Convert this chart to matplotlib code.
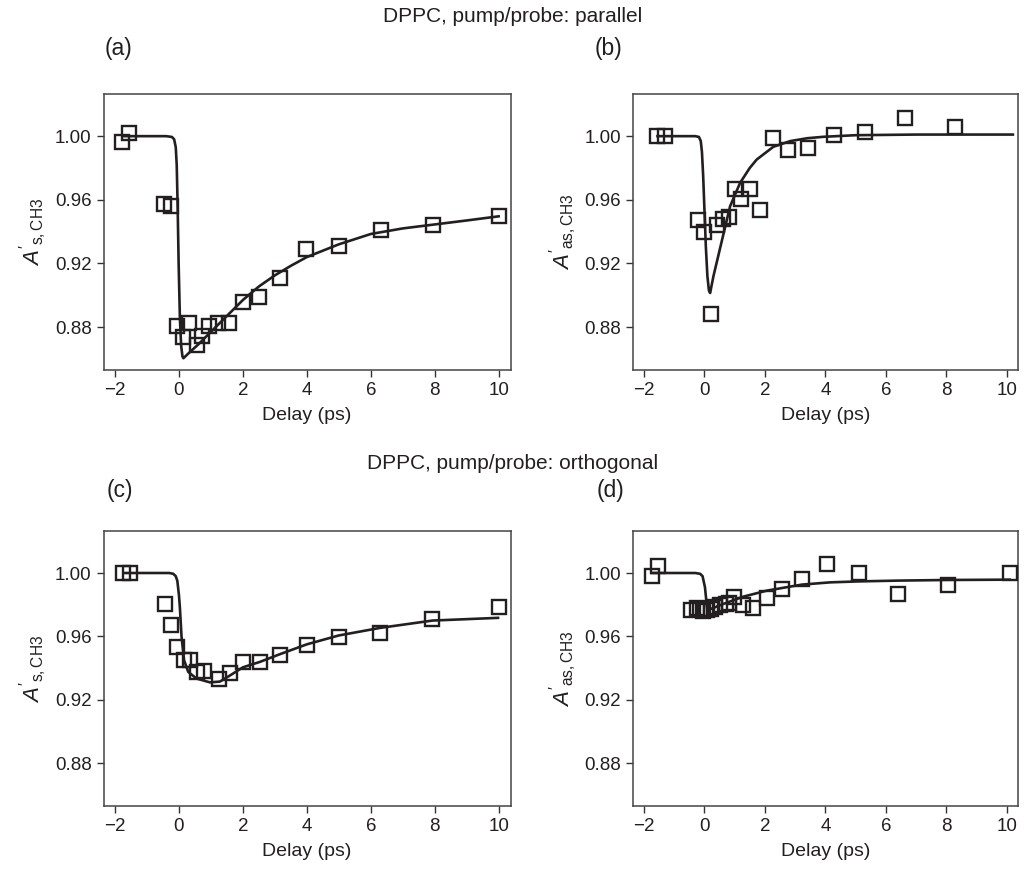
import matplotlib
matplotlib.use("Agg")
import matplotlib.pyplot as plt

plt.rcParams['font.family'] = ['Liberation Sans', 'DejaVu Sans']
plt.rcParams['mathtext.fontset'] = 'custom'
plt.rcParams['mathtext.rm'] = 'Liberation Sans'
plt.rcParams['mathtext.it'] = 'Liberation Sans:italic'

INK = '#231f20'

# (a) parallel, symmetric stretch
a_delay = [-1.77, -1.56, -0.46, -0.25, -0.07, 0.135, 0.32, 0.55, 0.73, 0.95,
           1.23, 1.56, 2.0, 2.5, 3.15, 3.98, 5.0, 6.32, 7.94, 10.0]
a_value = [0.9965, 1.002, 0.9576, 0.9563, 0.8808, 0.874, 0.8828, 0.8688, 0.8745, 0.8808,
           0.8828, 0.8825, 0.896, 0.899, 0.9108, 0.929, 0.9311, 0.9412, 0.9444, 0.9496]
a_fit_x = [-1.77, -0.4, -0.22, -0.15, -0.1, -0.07, -0.04, -0.01, 0.03, 0.07, 0.11, 0.14,
           0.3, 0.6, 1.0, 1.5, 2.0, 2.5, 3.0, 3.5, 4.0, 5.0, 6.0, 7.0, 8.0, 9.0, 10.0]
a_fit_y = [1.0, 1.0, 0.9995, 0.998, 0.993, 0.982, 0.955, 0.92, 0.885, 0.868, 0.8615, 0.8604,
           0.8635, 0.869, 0.877, 0.887, 0.897, 0.9055, 0.9125, 0.9185, 0.924, 0.932, 0.9385,
           0.942, 0.9445, 0.947, 0.9496]

# (b) parallel, antisymmetric stretch
b_delay = [-1.55, -1.3, -0.2, 0.0, 0.21, 0.41, 0.6, 0.83, 1.02, 1.22, 1.52, 1.84,
           2.26, 2.78, 3.44, 4.27, 5.31, 6.62, 8.28]
b_value = [1.0, 1.0, 0.947, 0.940, 0.8883, 0.9444, 0.948, 0.9492, 0.967, 0.9606, 0.967, 0.9538,
           0.9987, 0.9912, 0.9923, 1.001, 1.0025, 1.0116, 1.0057]
b_fit_x = [-1.55, -0.3, -0.18, -0.12, -0.08, -0.04, 0.0, 0.05, 0.1, 0.15, 0.19, 0.3, 0.45,
           0.6, 0.85, 1.18, 1.5, 1.73, 2.28, 2.84, 3.4, 3.94, 5.0, 7.0, 10.2]
b_fit_y = [1.0, 1.0, 0.9995, 0.997, 0.99, 0.975, 0.955, 0.93, 0.912, 0.903, 0.9014, 0.912,
           0.924, 0.936, 0.9559, 0.9706, 0.980, 0.9853, 0.9933, 0.9969, 0.9987, 0.9996,
           1.0006, 1.001, 1.001]

# (c) orthogonal, symmetric stretch
c_delay = [-1.74, -1.53, -0.44, -0.25, -0.05, 0.16, 0.34, 0.55, 0.78, 1.26, 1.6, 2.01,
           2.53, 3.16, 3.99, 5.01, 6.3, 7.93, 10.0]
c_value = [1.0, 1.0, 0.9805, 0.9669, 0.9533, 0.9454, 0.945, 0.9376, 0.9382, 0.933, 0.9366,
           0.9439, 0.9439, 0.9481, 0.9548, 0.9596, 0.9623, 0.9711, 0.9784]
c_fit_x = [-1.74, -0.3, -0.18, -0.1, -0.05, 0.0, 0.03, 0.08, 0.16, 0.29, 0.55, 0.97, 1.28,
           1.6, 2.0, 2.53, 3.16, 4.0, 5.0, 6.3, 7.93, 9.98]
c_fit_y = [1.0, 1.0, 0.9995, 0.998, 0.995, 0.986, 0.978, 0.96, 0.945, 0.9376, 0.9334, 0.931,
           0.9315, 0.9354, 0.9405, 0.9439, 0.9488, 0.955, 0.9606, 0.9654, 0.970, 0.9717]

# (d) orthogonal, antisymmetric stretch
d_delay = [-1.74, -1.52, -0.44, -0.25, -0.14, -0.03, 0.08, 0.21, 0.35, 0.52, 0.72, 0.83,
           0.99, 1.29, 1.62, 2.07, 2.58, 3.23, 4.05, 5.1, 6.4, 8.06, 10.1]
d_value = [0.9983, 1.0046, 0.9768, 0.9778, 0.9774, 0.9759, 0.9768, 0.9774, 0.9784, 0.9795,
           0.9805, 0.9809, 0.9851, 0.9795, 0.978, 0.9843, 0.99, 0.9962, 1.0057, 1.0,
           0.9868, 0.9925, 1.0]
d_fit_x = [-1.74, -0.3, -0.14, -0.06, 0.02, 0.08, 0.1, 0.63, 1.29, 2.07, 3.23, 4.16, 5.1,
           6.4, 8.06, 10.1]
d_fit_y = [1.0, 1.0, 0.9995, 0.998, 0.991, 0.9795, 0.9765, 0.9805, 0.9851, 0.9889, 0.9927,
           0.9941, 0.9947, 0.9952, 0.9956, 0.9958]

xticks = [-2, 0, 2, 4, 6, 8, 10]
yticks = [0.88, 0.92, 0.96, 1.00]
ytick_labels = ['0.88', '0.92', '0.96', '1.00']

W, H = 1026, 871
fig = plt.figure(figsize=(W / 100, H / 100), dpi=100)


def px_axes(x0, y0, x1, y1):
    return fig.add_axes([x0 / W, 1 - y1 / H, (x1 - x0) / W, (y1 - y0) / H])


panels = [
    (px_axes(103.5, 94, 510.5, 370), a_delay, a_value, a_fit_x, a_fit_y, r"$A'_{\mathrm{s,CH3}}$"),
    (px_axes(633, 94, 1018, 370), b_delay, b_value, b_fit_x, b_fit_y, r"$A'_{\mathrm{as,CH3}}$"),
    (px_axes(103.5, 531, 510.5, 806), c_delay, c_value, c_fit_x, c_fit_y, r"$A'_{\mathrm{s,CH3}}$"),
    (px_axes(633, 531, 1018, 806), d_delay, d_value, d_fit_x, d_fit_y, r"$A'_{\mathrm{as,CH3}}$"),
]

for ax, dx, dy, fx, fy, ylab in panels:
    ax.plot(fx, fy, color=INK, lw=1.9, zorder=2)
    ax.plot(dx, dy, linestyle='none', marker='s', markersize=9.5, markerfacecolor='none',
            markeredgecolor=INK, markeredgewidth=1.7, zorder=3)
    ax.set_xlim(-2.36, 10.37)
    ax.set_ylim(0.853, 1.0265)
    ax.set_xticks(xticks)
    ax.set_yticks(yticks)
    ax.set_yticklabels(ytick_labels)
    ax.tick_params(direction='out', length=5, width=1, colors='#333333', labelcolor=INK,
                   labelsize=13.5)
    for sp in ax.spines.values():
        sp.set_color('#444444')
        sp.set_linewidth(1.1)
    ax.set_xlabel('Delay (ps)', fontsize=14, color=INK, labelpad=6)
    ax.set_ylabel(ylab, fontsize=16, color=INK, labelpad=4)

fig.text(513 / W, 1 - 17 / H, 'DPPC, pump/probe: parallel', ha='center', va='center',
         fontsize=15, color=INK)
fig.text(513 / W, 1 - 463 / H, 'DPPC, pump/probe: orthogonal', ha='center', va='center',
         fontsize=15, color=INK)
for lab, x, y in [('(a)', 105, 48), ('(b)', 595, 48), ('(c)', 107, 490), ('(d)', 597, 490)]:
    fig.text(x / W, 1 - y / H, lab, ha='left', va='center', fontsize=16.5, color=INK)

fig.savefig('out.png', dpi=100)
